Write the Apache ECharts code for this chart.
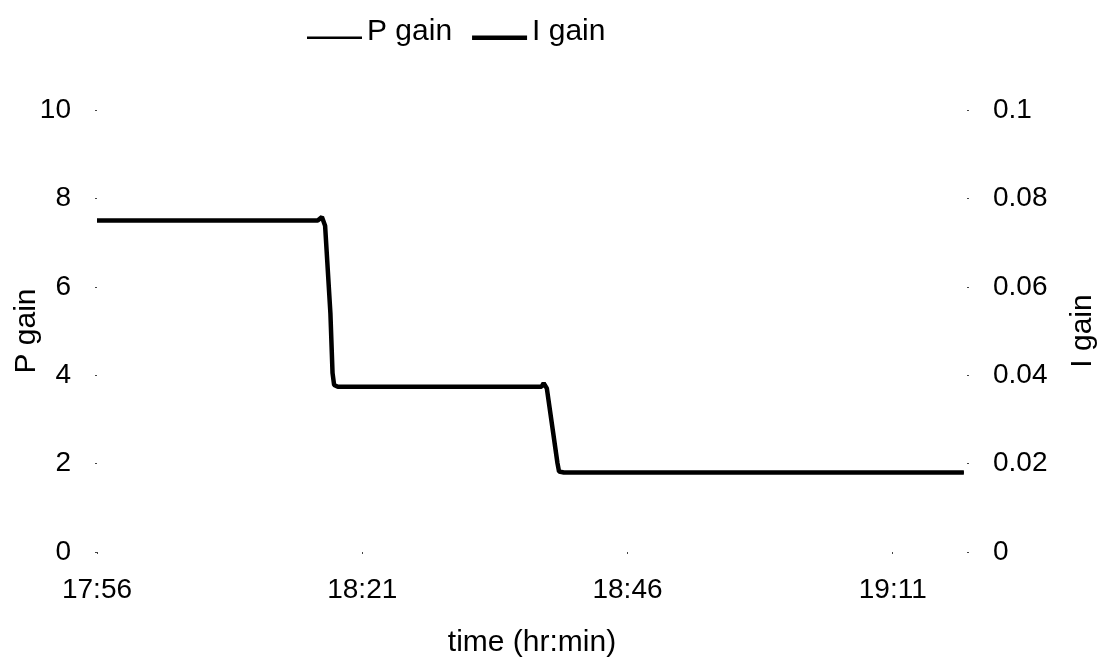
<!DOCTYPE html>
<html>
<head>
<meta charset="utf-8">
<script src="https://cdn.jsdelivr.net/npm/echarts@6/dist/echarts.min.js"></script>
<style>
  html, body { margin: 0; padding: 0; background: #fff; }
  #chart { width: 1109px; height: 665px; }
</style>
</head>
<body>
<div id="chart"></div>
<script>
// Controller gain schedule logged against clock time
const startTime = '17:56:00';
const sampleTimes = [
  '17:56:00', '18:16:48', '18:17:12', '18:17:30', '18:18:00', '18:18:12',
  '18:18:21', '18:18:42', '18:37:54', '18:38:06', '18:38:24', '18:39:00',
  '18:39:24', '18:39:33', '18:40:00', '19:17:42'
];
const pGain = [
  7.50, 7.50, 7.58, 7.38, 5.40, 4.05,
  3.78, 3.74, 3.74, 3.82, 3.70, 2.69,
  2.01, 1.82, 1.80, 1.80
];
const iGain = [
  0.0750, 0.0750, 0.0758, 0.0738, 0.0540, 0.0405,
  0.0378, 0.0374, 0.0374, 0.0382, 0.0370, 0.0269,
  0.0201, 0.0182, 0.0180, 0.0180
];
const timeTickStep = 25;   // minutes between time labels
const timeAxisEnd = 82;    // minutes after start
const pTicks = { min: 0, max: 10, step: 2 };
const iTicks = { min: 0, max: 0.1, step: 0.02 };

function toSeconds(t) {
  const [h, m, s] = t.split(':').map(Number);
  return h * 3600 + m * 60 + (s || 0);
}
const t0 = toSeconds(startTime);
const minutesFromStart = t => (toSeconds(t) - t0) / 60;
function clockLabel(min) {
  const total = Math.round(t0 / 60 + min);
  const h = Math.floor(total / 60), m = total % 60;
  return h + ':' + String(m).padStart(2, '0');
}

const pData = sampleTimes.map((t, i) => [minutesFromStart(t), pGain[i]]);
const iData = sampleTimes.map((t, i) => [minutesFromStart(t), iGain[i]]);

const FONT = '"Liberation Sans", Arial, sans-serif';
const tickText = { color: '#000', fontFamily: FONT, fontSize: 28 };
const nameText = { color: '#000', fontFamily: FONT, fontSize: 30 };

// Legend swatches: a bar sitting near the text baseline (hairlines fix the box)
const swatch = (top, bottom) =>
  'path://M0,0H55V0.01H0Z M0,' + top + 'H55V' + bottom + 'H0Z M0,27.99H55V28H0Z';

const tickStyle = { show: true, length: 2, lineStyle: { color: '#444', width: 1 } };

const chart = echarts.init(document.getElementById('chart'), null, { renderer: 'canvas' });
chart.setOption({
  animation: false,
  backgroundColor: '#fff',
  textStyle: { fontFamily: FONT },
  legend: {
    left: 307,
    top: 17,
    padding: 0,
    itemWidth: 55,
    itemHeight: 28,
    itemGap: 20,
    symbolKeepAspect: true,
    itemStyle: { borderWidth: 0 },
    textStyle: nameText,
    data: [
      { name: 'P gain', icon: swatch(18.45, 20.95) },
      { name: 'I gain', icon: swatch(17.45, 21.95) }
    ]
  },
  grid: {
    left: 97, right: 142, top: 110, bottom: 113,
    containLabel: false,
    outerBoundsMode: 'none'
  },
  xAxis: {
    type: 'value',
    min: 0,
    max: timeAxisEnd,
    interval: timeTickStep,
    name: 'time (hr:min)',
    nameLocation: 'middle',
    nameGap: 76,
    nameMoveOverlap: false,
    nameTextStyle: nameText,
    axisLine: { show: false },
    axisTick: tickStyle,
    splitLine: { show: false },
    axisLabel: Object.assign({}, tickText, {
      margin: 24,
      showMaxLabel: false,
      formatter: v => (v % timeTickStep === 0 ? clockLabel(v) : '')
    })
  },
  yAxis: [
    {
      type: 'value',
      position: 'left',
      min: pTicks.min, max: pTicks.max, interval: pTicks.step,
      name: 'P gain',
      nameLocation: 'middle',
      nameGap: 55,
      nameMoveOverlap: false,
      nameTextStyle: nameText,
      axisLine: { show: false },
      axisTick: tickStyle,
      splitLine: { show: false },
      axisLabel: Object.assign({}, tickText, { margin: 26 })
    },
    {
      type: 'value',
      position: 'right',
      min: iTicks.min, max: iTicks.max, interval: iTicks.step,
      name: 'I gain',
      nameLocation: 'middle',
      nameGap: 101,
      nameMoveOverlap: false,
      nameTextStyle: nameText,
      axisLine: { show: false },
      axisTick: tickStyle,
      splitLine: { show: false },
      axisLabel: Object.assign({}, tickText, { margin: 26 })
    }
  ],
  series: [
    {
      name: 'P gain',
      type: 'line',
      yAxisIndex: 0,
      data: pData,
      symbol: 'none',
      color: '#000',
      lineStyle: { color: '#000', width: 2.5 }
    },
    {
      name: 'I gain',
      type: 'line',
      yAxisIndex: 1,
      data: iData,
      symbol: 'none',
      color: '#000',
      lineStyle: { color: '#000', width: 4.5 }
    }
  ]
});
</script>
</body>
</html>
